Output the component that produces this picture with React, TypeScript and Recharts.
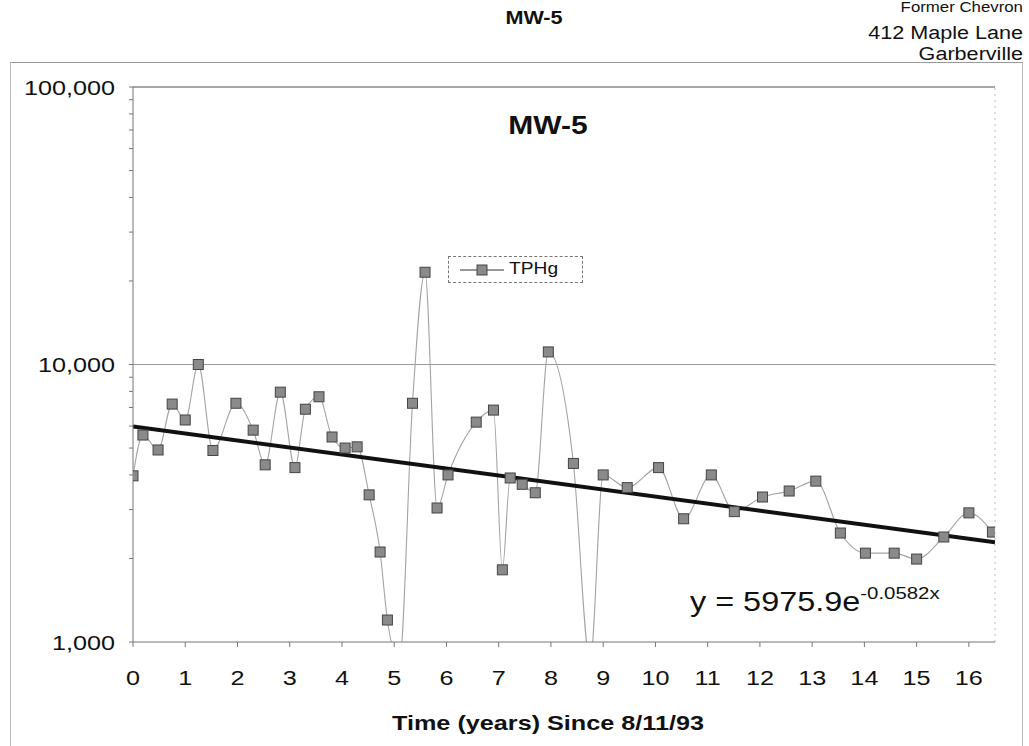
import { CartesianGrid, Line, LineChart, ReferenceLine, XAxis, YAxis } from 'recharts'

// TPHg at MW-5 (log scale, years since 8/11/93)
const years = [
  0, 0.19, 0.48, 0.75, 1.0, 1.25, 1.53, 1.97, 2.3, 2.53, 2.82, 3.1, 3.3, 3.56, 3.81, 4.06, 4.29, 4.52,
  4.73, 4.87, 5.1, 5.35, 5.59, 5.82, 6.03, 6.57, 6.9, 7.07, 7.22, 7.45, 7.7, 7.95, 8.43, 8.75, 9.0,
  9.46, 10.06, 10.54, 11.07, 11.51, 12.05, 12.56, 13.07, 13.54, 14.02, 14.57, 15.0, 15.52, 16.0, 16.45,
]
const tphg = [
  3970, 5570, 4920, 7200, 6310, 10000, 4900, 7250, 5800, 4350, 7950, 4250, 6900, 7650, 5480, 5000, 5050,
  3390, 2110, 1200, 850, 7250, 21500, 3040, 4000, 6200, 6850, 1820, 3900, 3700, 3450, 11100, 4400, 850,
  4000, 3600, 4250, 2780, 4000, 2950, 3330, 3500, 3800, 2470, 2090, 2090, 1990, 2390, 2920, 2490,
]

// exponential trend (y = 5975.9e^-0.0582x), ends as drawn
const trendYears = [0, 16.5]
const trendValues = [5976, 2290]

const xTicks = [0, 1, 2, 3, 4, 5, 6, 7, 8, 9, 10, 11, 12, 13, 14, 15, 16]
const yTicks = [
  1000, 2000, 3000, 4000, 5000, 6000, 7000, 8000, 9000, 10000, 20000, 30000, 40000, 50000, 60000,
  70000, 80000, 90000, 100000,
]
const yLabels = [1000, 10000, 100000]

const FONT = '"Liberation Sans", Arial, sans-serif'
// the scan is stretched sideways, so text is widened a bit to match
const SX = 1.2

const series = years.map((x, i) => ({ x, v: tphg[i] }))
const trend = trendYears.map((x, i) => ({ x, v: trendValues[i] }))

function SquareDot(props: any) {
  const { cx, cy } = props
  if (cx == null || cy == null) return null
  return <rect x={cx - 5} y={cy - 5} width={10} height={10} fill="#8a8a8a" stroke="#444" strokeWidth={1} />
}

function YTick({ x, y, payload }: any) {
  if (!yLabels.includes(payload.value)) return null
  return (
    <text
      x={x}
      y={y}
      dy="0.36em"
      textAnchor="end"
      fontSize={21}
      fontFamily={FONT}
      fill="#111"
      transform={`translate(${x} 0) scale(${SX} 1) translate(${-x} 0)`}
    >
      {payload.value.toLocaleString('en-US')}
    </text>
  )
}

function XTick({ x, y, payload }: any) {
  return (
    <text
      x={x}
      y={y + 28}
      textAnchor="middle"
      fontSize={21}
      fontFamily={FONT}
      fill="#111"
      transform={`translate(${x} 0) scale(${SX} 1) translate(${-x} 0)`}
    >
      {payload.value}
    </text>
  )
}

function Stretched({ left, right, top, size, bold, children, origin = 'left', width }: any) {
  return (
    <div
      style={{
        position: 'absolute',
        left,
        right,
        top,
        width,
        fontSize: size,
        fontWeight: bold ? 'bold' : 'normal',
        whiteSpace: 'nowrap',
        textAlign: width ? 'center' : right != null ? 'right' : 'left',
        transform: `scaleX(${SX})`,
        transformOrigin: right != null ? 'right' : origin,
        lineHeight: 1.15,
      }}
    >
      {children}
    </div>
  )
}

export default function App() {
  return (
    <div
      style={{
        position: 'absolute',
        left: 0,
        top: 0,
        width: 1029,
        height: 746,
        overflow: 'hidden',
        background: '#fff',
        fontFamily: FONT,
        color: '#111',
      }}
    >
      {/* page header */}
      <Stretched left={409} width={250} top={8} size={18} bold origin="center">MW-5</Stretched>
      <Stretched right={6} top={-1} size={14}>Former Chevron</Stretched>
      <Stretched right={6} top={23} size={18}>412 Maple Lane</Stretched>
      <Stretched right={6} top={44} size={18}>Garberville</Stretched>

      {/* chart frame */}
      <div
        style={{
          position: 'absolute',
          left: 10,
          top: 62,
          width: 1011,
          height: 700,
          borderTop: '1px solid #999',
          borderLeft: '1px solid #bbb',
          borderRight: '1px solid #bbb',
        }}
      />

      <div style={{ position: 'absolute', left: 0, top: 0 }}>
        <LineChart width={1029} height={746} margin={{ top: 87, right: 34, left: 0, bottom: 44 }}>
          <CartesianGrid horizontal={false} vertical={false} />
          <XAxis
            dataKey="x"
            type="number"
            domain={[0, 16.5]}
            ticks={xTicks}
            allowDataOverflow
            height={60}
            tickSize={5}
            tickMargin={10}
            stroke="#777"
            tick={<XTick />}
          />
          <YAxis
            dataKey="v"
            type="number"
            scale="log"
            domain={[1000, 100000]}
            ticks={yTicks}
            allowDataOverflow
            width={133}
            tickSize={4}
            tickMargin={14}
            stroke="#777"
            interval={0}
            tick={<YTick />}
          />
          <ReferenceLine y={10000} stroke="#999" strokeWidth={1.2} />
          <ReferenceLine y={100000} stroke="#888" strokeWidth={1.5} />
          <ReferenceLine x={16.5} stroke="#bbb" strokeDasharray="2 4" />
          <Line
            data={series}
            dataKey="v"
            type="monotone"
            stroke="#a3a3a3"
            strokeWidth={1.1}
            dot={<SquareDot />}
            activeDot={false}
            isAnimationActive={false}
          />
          <Line
            data={trend}
            dataKey="v"
            type="linear"
            stroke="#111"
            strokeWidth={4}
            dot={false}
            activeDot={false}
            isAnimationActive={false}
          />
        </LineChart>
      </div>

      {/* chart title */}
      <Stretched left={398} width={300} top={111} size={25} bold origin="center">MW-5</Stretched>

      {/* legend */}
      <div
        style={{
          position: 'absolute',
          left: 448,
          top: 256,
          width: 135,
          height: 27,
          border: '1px dashed #777',
          boxSizing: 'border-box',
        }}
      >
        <svg width={52} height={20} style={{ position: 'absolute', left: 9, top: 3 }}>
          <line x1={2} y1={10} x2={46} y2={10} stroke="#333" strokeWidth={1.2} />
          <rect x={19} y={5} width={10} height={10} fill="#8a8a8a" stroke="#444" />
        </svg>
        <Stretched left={60} top={3} size={16}>TPHg</Stretched>
      </div>

      {/* trendline equation */}
      <Stretched left={690} top={586} size={27}>
        y = 5975.9e<sup style={{ fontSize: 17, position: 'relative', top: -2 }}>-0.0582x</sup>
      </Stretched>

      {/* axis title */}
      <Stretched left={298} width={500} top={711} size={21} bold origin="center">
        Time (years) Since 8/11/93
      </Stretched>
    </div>
  )
}
